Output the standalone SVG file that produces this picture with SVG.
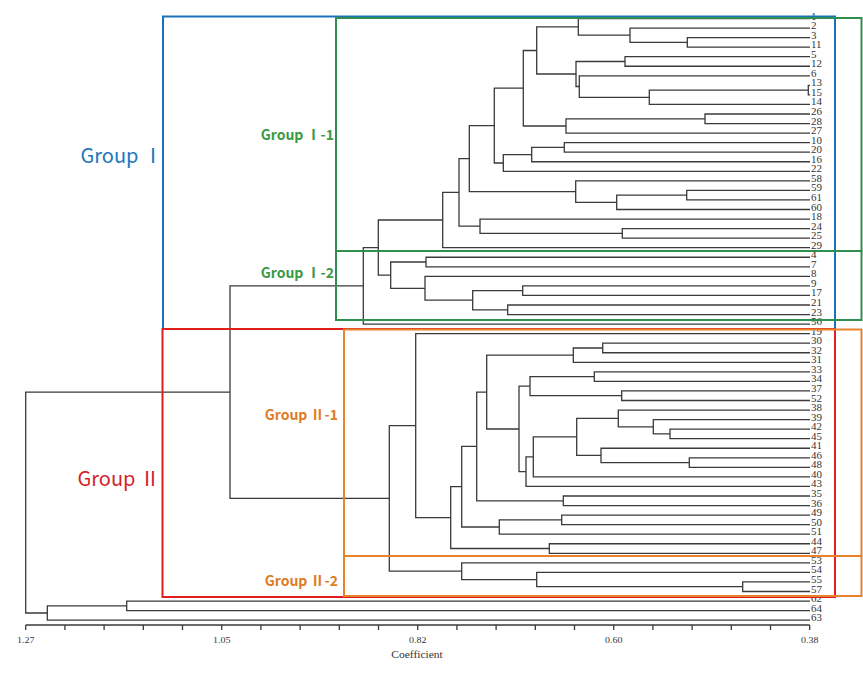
<svg xmlns="http://www.w3.org/2000/svg" width="863" height="676" viewBox="0 0 863 676">
<style>
.t{fill:none;stroke:#3a3a3a;stroke-width:1.3}
.lf{font-family:"Liberation Serif",serif;font-size:11px;fill:#333}
.ax{font-family:"Liberation Serif",serif;font-size:10px;fill:#333;text-anchor:middle}
.box{fill:none;stroke-width:2}
.gl{font-family:"Noto Sans CJK KR","Noto Sans",sans-serif;text-anchor:end}
.gb{font-weight:bold;font-size:14px}
</style>
<rect width="863" height="676" fill="#ffffff"/>
<g id="connectors" class="t">
<path d="M810 37.6H687.3V47.15H810"/>
<path d="M810 28.05H630V42.4H687.3"/>
<path d="M810 18.5H578.3V35.2H630"/>
<path d="M810 56.7H625V66.25H810"/>
<path d="M810 85.35H808.3V94.9H810"/>
<path d="M808.3 90.1H649.3V104.45H810"/>
<path d="M810 75.8H579.3V97.3H649.3"/>
<path d="M625 61.5H576V86.5H579.3"/>
<path d="M578.3 26.9H536.7V74H576"/>
<path d="M810 114H705V123.55H810"/>
<path d="M705 118.8H566V133.1H810"/>
<path d="M536.7 50.5H523.3V126H566"/>
<path d="M810 142.65H564.3V152.2H810"/>
<path d="M564.3 147.4H531.7V161.75H810"/>
<path d="M531.7 154.6H503.3V171.3H810"/>
<path d="M523.3 88.2H494.3V163H503.3"/>
<path d="M810 190.4H686.7V199.95H810"/>
<path d="M686.7 195.2H616.7V209.5H810"/>
<path d="M810 180.85H575.7V202.3H616.7"/>
<path d="M494.3 125.6H469.3V191.6H575.7"/>
<path d="M810 228.6H622.3V238.15H810"/>
<path d="M810 219.05H480V233.4H622.3"/>
<path d="M469.3 158.6H459V226.2H480"/>
<path d="M459 192.4H442.7V247.7H810"/>
<path d="M810 257.25H426V266.8H810"/>
<path d="M810 285.9H522.7V295.45H810"/>
<path d="M810 305H507.7V314.55H810"/>
<path d="M522.7 290.7H472.7V309.8H507.7"/>
<path d="M810 276.35H425V300.2H472.7"/>
<path d="M426 262H390.7V288.3H425"/>
<path d="M442.7 220H378.3V275.2H390.7"/>
<path d="M378.3 247.6H363.3V324.1H810"/>
<path d="M810 343.2H602.7V352.75H810"/>
<path d="M602.7 348H573.3V362.3H810"/>
<path d="M810 371.85H594.3V381.4H810"/>
<path d="M810 390.95H621.7V400.5H810"/>
<path d="M594.3 376.6H530V395.7H621.7"/>
<path d="M810 429.15H670V438.7H810"/>
<path d="M810 419.6H653.3V433.9H670"/>
<path d="M810 410.05H618.3V426.8H653.3"/>
<path d="M810 457.8H689.3V467.35H810"/>
<path d="M810 448.25H601V462.6H689.3"/>
<path d="M618.3 418.4H576.7V455.4H601"/>
<path d="M576.7 436.9H533.3V476.9H810"/>
<path d="M533.3 456.9H526V486.45H810"/>
<path d="M530 386.2H519V471.7H526"/>
<path d="M573.3 355.2H486.7V429H519"/>
<path d="M810 496H563.3V505.55H810"/>
<path d="M486.7 392.1H476.7V500.8H563.3"/>
<path d="M810 515.1H561.7V524.65H810"/>
<path d="M561.7 519.9H499.3V534.2H810"/>
<path d="M476.7 446.4H461.7V527H499.3"/>
<path d="M810 543.75H549.3V553.3H810"/>
<path d="M461.7 486.7H450.7V548.5H549.3"/>
<path d="M810 333.65H415.7V517.6H450.7"/>
<path d="M810 581.95H742.7V591.5H810"/>
<path d="M810 572.4H536.7V586.7H742.7"/>
<path d="M810 562.85H461.7V579.6H536.7"/>
<path d="M415.7 425.6H389.3V571.2H461.7"/>
<path d="M363.3 285.9H230V498.4H389.3"/>
<path d="M810 601.05H126.7V610.6H810"/>
<path d="M126.7 605.8H47.3V620.15H810"/>
<path d="M230 392.2H25.7V613H47.3"/>
</g>
<g id="axis">
<path class="t" d="M25.7 625H809.7M25.7 625V630M64.9 625V630M104.1 625V630M143.3 625V630M182.5 625V630M221.7 625V630M260.9 625V630M300.1 625V630M339.3 625V630M378.5 625V630M417.7 625V630M456.9 625V630M496.1 625V630M535.3 625V630M574.5 625V630M613.7 625V630M652.9 625V630M692.1 625V630M731.3 625V630M770.5 625V630M809.7 625V630"/>
<text class="ax" transform="translate(25.7 643) scale(1 0.8)">1.27</text>
<text class="ax" transform="translate(221.7 643) scale(1 0.8)">1.05</text>
<text class="ax" transform="translate(417.7 643) scale(1 0.8)">0.82</text>
<text class="ax" transform="translate(613.7 643) scale(1 0.8)">0.60</text>
<text class="ax" transform="translate(809.7 643) scale(1 0.8)">0.38</text>
<text class="ax" style="font-size:11.5px" transform="translate(417 658) scale(1 0.85)">Coefficient</text>
</g>
<g id="leaves" class="lf">
<g id="leaf-1"><text transform="translate(811 19.5) scale(1 0.85)">1</text></g>
<g id="leaf-2"><text transform="translate(811 29.05) scale(1 0.85)">2</text></g>
<g id="leaf-3"><text transform="translate(811 38.6) scale(1 0.85)">3</text></g>
<g id="leaf-11"><text transform="translate(811 48.15) scale(1 0.85)">11</text></g>
<g id="leaf-5"><text transform="translate(811 57.7) scale(1 0.85)">5</text></g>
<g id="leaf-12"><text transform="translate(811 67.25) scale(1 0.85)">12</text></g>
<g id="leaf-6"><text transform="translate(811 76.8) scale(1 0.85)">6</text></g>
<g id="leaf-13"><text transform="translate(811 86.35) scale(1 0.85)">13</text></g>
<g id="leaf-15"><text transform="translate(811 95.9) scale(1 0.85)">15</text></g>
<g id="leaf-14"><text transform="translate(811 105.45) scale(1 0.85)">14</text></g>
<g id="leaf-26"><text transform="translate(811 115) scale(1 0.85)">26</text></g>
<g id="leaf-28"><text transform="translate(811 124.55) scale(1 0.85)">28</text></g>
<g id="leaf-27"><text transform="translate(811 134.1) scale(1 0.85)">27</text></g>
<g id="leaf-10"><text transform="translate(811 143.65) scale(1 0.85)">10</text></g>
<g id="leaf-20"><text transform="translate(811 153.2) scale(1 0.85)">20</text></g>
<g id="leaf-16"><text transform="translate(811 162.75) scale(1 0.85)">16</text></g>
<g id="leaf-22"><text transform="translate(811 172.3) scale(1 0.85)">22</text></g>
<g id="leaf-58"><text transform="translate(811 181.85) scale(1 0.85)">58</text></g>
<g id="leaf-59"><text transform="translate(811 191.4) scale(1 0.85)">59</text></g>
<g id="leaf-61"><text transform="translate(811 200.95) scale(1 0.85)">61</text></g>
<g id="leaf-60"><text transform="translate(811 210.5) scale(1 0.85)">60</text></g>
<g id="leaf-18"><text transform="translate(811 220.05) scale(1 0.85)">18</text></g>
<g id="leaf-24"><text transform="translate(811 229.6) scale(1 0.85)">24</text></g>
<g id="leaf-25"><text transform="translate(811 239.15) scale(1 0.85)">25</text></g>
<g id="leaf-29"><text transform="translate(811 248.7) scale(1 0.85)">29</text></g>
<g id="leaf-4"><text transform="translate(811 258.25) scale(1 0.85)">4</text></g>
<g id="leaf-7"><text transform="translate(811 267.8) scale(1 0.85)">7</text></g>
<g id="leaf-8"><text transform="translate(811 277.35) scale(1 0.85)">8</text></g>
<g id="leaf-9"><text transform="translate(811 286.9) scale(1 0.85)">9</text></g>
<g id="leaf-17"><text transform="translate(811 296.45) scale(1 0.85)">17</text></g>
<g id="leaf-21"><text transform="translate(811 306) scale(1 0.85)">21</text></g>
<g id="leaf-23"><text transform="translate(811 315.55) scale(1 0.85)">23</text></g>
<g id="leaf-56"><text transform="translate(811 325.1) scale(1 0.85)">56</text></g>
<g id="leaf-19"><text transform="translate(811 334.65) scale(1 0.85)">19</text></g>
<g id="leaf-30"><text transform="translate(811 344.2) scale(1 0.85)">30</text></g>
<g id="leaf-32"><text transform="translate(811 353.75) scale(1 0.85)">32</text></g>
<g id="leaf-31"><text transform="translate(811 363.3) scale(1 0.85)">31</text></g>
<g id="leaf-33"><text transform="translate(811 372.85) scale(1 0.85)">33</text></g>
<g id="leaf-34"><text transform="translate(811 382.4) scale(1 0.85)">34</text></g>
<g id="leaf-37"><text transform="translate(811 391.95) scale(1 0.85)">37</text></g>
<g id="leaf-52"><text transform="translate(811 401.5) scale(1 0.85)">52</text></g>
<g id="leaf-38"><text transform="translate(811 411.05) scale(1 0.85)">38</text></g>
<g id="leaf-39"><text transform="translate(811 420.6) scale(1 0.85)">39</text></g>
<g id="leaf-42"><text transform="translate(811 430.15) scale(1 0.85)">42</text></g>
<g id="leaf-45"><text transform="translate(811 439.7) scale(1 0.85)">45</text></g>
<g id="leaf-41"><text transform="translate(811 449.25) scale(1 0.85)">41</text></g>
<g id="leaf-46"><text transform="translate(811 458.8) scale(1 0.85)">46</text></g>
<g id="leaf-48"><text transform="translate(811 468.35) scale(1 0.85)">48</text></g>
<g id="leaf-40"><text transform="translate(811 477.9) scale(1 0.85)">40</text></g>
<g id="leaf-43"><text transform="translate(811 487.45) scale(1 0.85)">43</text></g>
<g id="leaf-35"><text transform="translate(811 497) scale(1 0.85)">35</text></g>
<g id="leaf-36"><text transform="translate(811 506.55) scale(1 0.85)">36</text></g>
<g id="leaf-49"><text transform="translate(811 516.1) scale(1 0.85)">49</text></g>
<g id="leaf-50"><text transform="translate(811 525.65) scale(1 0.85)">50</text></g>
<g id="leaf-51"><text transform="translate(811 535.2) scale(1 0.85)">51</text></g>
<g id="leaf-44"><text transform="translate(811 544.75) scale(1 0.85)">44</text></g>
<g id="leaf-47"><text transform="translate(811 554.3) scale(1 0.85)">47</text></g>
<g id="leaf-53"><text transform="translate(811 563.85) scale(1 0.85)">53</text></g>
<g id="leaf-54"><text transform="translate(811 573.4) scale(1 0.85)">54</text></g>
<g id="leaf-55"><text transform="translate(811 582.95) scale(1 0.85)">55</text></g>
<g id="leaf-57"><text transform="translate(811 592.5) scale(1 0.85)">57</text></g>
<g id="leaf-62"><text transform="translate(811 602.05) scale(1 0.85)">62</text></g>
<g id="leaf-64"><text transform="translate(811 611.6) scale(1 0.85)">64</text></g>
<g id="leaf-63"><text transform="translate(811 621.15) scale(1 0.85)">63</text></g>
</g>
<g id="group-I">
<rect class="box" x="163" y="16.5" width="672" height="312.5" stroke="#1b72b8"/>
<text class="gl" x="163" y="163" font-size="20" fill="#2277bb">Group Ⅰ</text>
</g>
<g id="group-I-1">
<rect class="box" x="336" y="18" width="525.5" height="233" stroke="#2f8f4e"/>
<text class="gl gb" x="334" y="140" fill="#3b9a45">Group Ⅰ-1</text>
</g>
<g id="group-I-2">
<rect class="box" x="336" y="251" width="525.5" height="69" stroke="#2f8f4e"/>
<text class="gl gb" x="334" y="278" fill="#3b9a45">Group Ⅰ-2</text>
</g>
<g id="group-II">
<rect class="box" x="162.5" y="329" width="672.5" height="268" stroke="#e21d1d" stroke-width="2.5"/>
<text class="gl" x="160" y="486" font-size="20" fill="#d61f2b">Group Ⅱ</text>
</g>
<g id="group-II-1">
<rect class="box" x="344" y="329.5" width="517.5" height="226.5" stroke="#e8832c"/>
<text class="gl gb" x="338" y="420" fill="#e07b26">Group Ⅱ-1</text>
</g>
<g id="group-II-2">
<rect class="box" x="344" y="556" width="517.5" height="40" stroke="#e8832c"/>
<text class="gl gb" x="338" y="586" fill="#e07b26">Group Ⅱ-2</text>
</g>
</svg>
